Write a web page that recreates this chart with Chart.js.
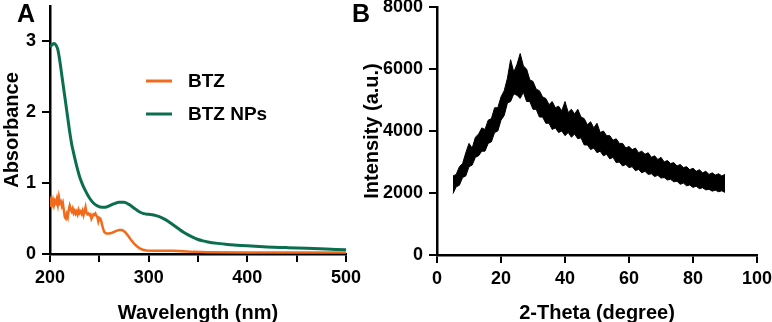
<!DOCTYPE html>
<html><head><meta charset="utf-8">
<script src="https://cdn.jsdelivr.net/npm/chart.js@4/dist/chart.umd.min.js"></script>
<style>
html,body{margin:0;padding:0;background:#fff;overflow:hidden;width:772px;height:322px;position:relative;font-family:"Liberation Sans",Arial,sans-serif;}
.wrap{position:absolute;}
#wa{left:0;top:-20px;width:380px;height:346px;}
#wb{left:360px;top:-20px;width:430px;height:346px;}
.lbl{position:absolute;font-weight:bold;font-size:25px;line-height:25px;color:#000;}
</style></head><body>
<div class="wrap" id="wa"><canvas id="ca"></canvas></div>
<div class="wrap" id="wb"><canvas id="cb"></canvas></div>
<div class="lbl" style="left:17px;top:1px">A</div>
<div class="lbl" style="left:352px;top:1px">B</div>
<script>
// ---- Panel A: UV-Vis absorbance ----
const seriesNames = ['BTZ', 'BTZ NPs'];
const btzWavelength = [200,201,202,203,204,205,206,207,208,209,210,211,212,213,214,215,216,217,218,219,220,221,222,223,224,225,226,227,228,229,230,231,232,233,234,235,236,237,238,239,240,241,242,243,244,245,246,247,248,249,250,251,252,253,254,255,257,260,263,266,270,273,276,279,282,285,288,291,294,298,305,315,325,335,345,360,400,450,500];
const btzAbsorbance = [0.68,0.74,0.70,0.76,0.69,0.75,0.72,0.78,0.70,0.80,0.72,0.74,0.68,0.72,0.62,0.52,0.50,0.56,0.52,0.62,0.68,0.63,0.60,0.64,0.58,0.61,0.57,0.60,0.56,0.62,0.58,0.60,0.57,0.61,0.55,0.60,0.66,0.58,0.56,0.57,0.55,0.56,0.50,0.53,0.56,0.55,0.57,0.54,0.52,0.46,0.51,0.50,0.46,0.40,0.35,0.31,0.29,0.29,0.30,0.32,0.34,0.34,0.31,0.26,0.20,0.15,0.11,0.08,0.06,0.05,0.045,0.045,0.045,0.04,0.03,0.025,0.02,0.02,0.02];
const npWavelength = [200,202,204,206,208,210,212,214,216,218,220,222,224,226,228,230,233,236,240,244,248,253,256,260,265,270,275,280,285,290,295,300,305,310,315,320,325,330,335,340,345,350,355,360,370,380,390,400,420,440,460,480,500];
const npAbsorbance = [2.92,2.95,2.97,2.95,2.88,2.72,2.52,2.32,2.12,1.92,1.72,1.55,1.42,1.30,1.19,1.09,0.98,0.89,0.79,0.72,0.68,0.66,0.66,0.68,0.71,0.73,0.73,0.70,0.65,0.60,0.57,0.56,0.55,0.53,0.50,0.46,0.41,0.36,0.31,0.27,0.235,0.205,0.185,0.17,0.15,0.135,0.125,0.115,0.10,0.09,0.08,0.07,0.06];
const absXTicks = [200,300,400,500];
const absYTicks = [0,1,2,3];

// ---- Panel B: XRD ----
const xrdTheta = [5,6,7,8,9,10,11,12,13,14,15,16,17,18,19,20,21,22,23,24,25,26,27,28,29,30,31,32,33,34,35,36,37,38,39,40,41,42,43,44,45,46,47,48,49,50,51,52,53,54,55,56,57,58,59,60,61,62,63,64,65,66,67,68,69,70,71,72,73,74,75,76,77,78,79,80,81,82,83,84,85,86,87,88,89,90];
const xrdUpper = [2550,2600,2850,2950,3300,3600,3450,3800,3900,4100,4050,4350,4400,4750,4750,5100,5300,5700,6300,5900,6150,6500,6100,6000,5650,5600,5350,5300,5100,5050,4850,4950,4750,4800,4650,4950,4600,4700,4550,4700,4450,4400,4200,4300,4100,4250,3950,4000,3850,3850,3700,3750,3600,3600,3450,3500,3400,3450,3300,3350,3250,3300,3150,3200,3080,3150,3000,3050,2950,2980,2870,2920,2820,2850,2750,2800,2700,2750,2650,2700,2600,2650,2580,2620,2550,2600];
const xrdLower = [1980,2200,2250,2500,2550,2850,2900,3150,3200,3350,3350,3600,3650,3950,4000,4350,4500,4900,4950,5200,5150,5050,5250,4950,4950,4700,4700,4450,4450,4250,4250,4050,4100,3950,4000,3850,3950,3800,3900,3750,3780,3550,3550,3400,3450,3300,3350,3200,3250,3100,3150,2980,3000,2870,2920,2820,2850,2720,2760,2650,2700,2600,2620,2530,2570,2480,2500,2420,2440,2360,2380,2280,2320,2230,2260,2180,2220,2140,2170,2100,2120,2060,2090,2040,2070,2020];
const xrdXTicks = [0,20,40,60,80,100];
const xrdYTicks = [0,2000,4000,6000,8000];

const ORANGE = '#F26A1B';
const GREEN = '#0B6E4F';
const FAMILY = "'Liberation Sans', Arial, Helvetica, sans-serif";
const tickFont = {family: FAMILY, size: 18, weight: 'bold'};
const titleFont = {family: FAMILY, size: 20, weight: 'bold'};

function axisCommon(extra) {
  return Object.assign({
    border: {display: true, color: '#000', width: 2.5},
    grid: {display: true, drawOnChartArea: false, drawTicks: true, tickLength: 8, color: '#000', lineWidth: 2},
  }, extra);
}

const legendPlugin = {
  id: 'absLegend',
  afterDatasetsDraw(chart) {
    const ctx = chart.ctx;
    const items = [{name: seriesNames[0], color: ORANGE, y: 101}, {name: seriesNames[1], color: GREEN, y: 134}];
    ctx.save();
    items.forEach(it => {
      ctx.strokeStyle = it.color; ctx.lineWidth = 3; ctx.lineCap = 'butt';
      ctx.beginPath(); ctx.moveTo(146, it.y); ctx.lineTo(172, it.y); ctx.stroke();
      ctx.fillStyle = '#000';
      ctx.font = "bold 19px " + FAMILY;
      ctx.textBaseline = 'middle'; ctx.textAlign = 'left';
      ctx.fillText(it.name, 188, it.y + 1);
    });
    ctx.restore();
  }
};

new Chart(document.getElementById('ca'), {
  type: 'line',
  data: {
    datasets: [
      {label: seriesNames[0], data: btzWavelength.map((x, i) => ({x, y: btzAbsorbance[i]})), borderColor: ORANGE, borderWidth: 2.5, pointRadius: 0, tension: 0, fill: false},
      {label: seriesNames[1], data: npWavelength.map((x, i) => ({x, y: npAbsorbance[i]})), borderColor: GREEN, borderWidth: 3, pointRadius: 0, cubicInterpolationMode: 'monotone', fill: false}
    ]
  },
  options: {
    responsive: true, maintainAspectRatio: false, animation: false,
    layout: {padding: {top: 26, right: 34, left: 0, bottom: 0}},
    plugins: {legend: {display: false}, tooltip: {enabled: false}},
    scales: {
      x: axisCommon({
        type: 'linear', min: 200, max: 500,
        ticks: {stepSize: 50, color: '#000', font: tickFont, padding: 5, maxRotation: 0, autoSkip: false,
          callback: v => absXTicks.includes(v) ? String(v) : ''},
        title: {display: true, text: 'Wavelength (nm)', color: '#000', font: titleFont, padding: {top: 0, bottom: 1}},
        afterFit: s => { s.height = 72; }
      }),
      y: axisCommon({
        type: 'linear', min: 0, max: 3.5,
        ticks: {stepSize: 1, color: '#000', font: tickFont, padding: 6, callback: v => String(v)},
        afterBuildTicks: s => { s.ticks = absYTicks.map(v => ({value: v})); },
        title: {display: true, text: 'Absorbance', color: '#000', font: titleFont, padding: {top: 0, bottom: 0}},
        afterFit: s => { s.width = 50; }
      })
    }
  },
  plugins: [legendPlugin]
});

new Chart(document.getElementById('cb'), {
  type: 'line',
  data: {
    datasets: [
      {label: 'upper', data: xrdTheta.map((x, i) => ({x, y: xrdUpper[i]})), borderColor: '#000', borderWidth: 1, pointRadius: 0, tension: 0, fill: false},
      {label: 'lower', data: xrdTheta.map((x, i) => ({x, y: xrdLower[i]})), borderColor: '#000', borderWidth: 1, pointRadius: 0, tension: 0, fill: '-1', backgroundColor: '#000'}
    ]
  },
  options: {
    responsive: true, maintainAspectRatio: false, animation: false,
    layout: {padding: {top: 27, right: 33, left: 0, bottom: 0}},
    plugins: {legend: {display: false}, tooltip: {enabled: false}},
    scales: {
      x: axisCommon({
        type: 'linear', min: 0, max: 100,
        ticks: {stepSize: 20, color: '#000', font: tickFont, padding: 5, maxRotation: 0, autoSkip: false, callback: v => String(v)},
        afterBuildTicks: s => { s.ticks = xrdXTicks.map(v => ({value: v})); },
        title: {display: true, text: '2-Theta (degree)', color: '#000', font: titleFont, padding: {top: 0, bottom: 1}},
        afterFit: s => { s.height = 71; }
      }),
      y: axisCommon({
        type: 'linear', min: 0, max: 8000,
        ticks: {stepSize: 2000, color: '#000', font: tickFont, padding: 6, callback: v => String(v)},
        afterBuildTicks: s => { s.ticks = xrdYTicks.map(v => ({value: v})); },
        title: {display: true, text: 'Intensity (a.u.)', color: '#000', font: titleFont, padding: {top: 0, bottom: 0}},
        afterFit: s => { s.width = 77; }
      })
    }
  }
});
</script>
</body></html>
